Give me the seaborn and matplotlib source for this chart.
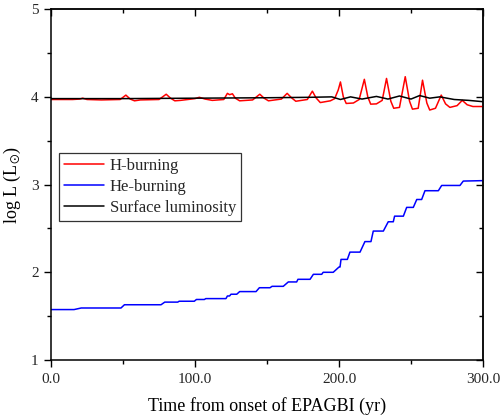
import numpy as np
import pandas as pd
import matplotlib
matplotlib.use("Agg")
import matplotlib.pyplot as plt
import seaborn as sns
from matplotlib.ticker import MultipleLocator, FormatStrFormatter
from matplotlib.lines import Line2D

# ---- data ----
h_t = [0, 15, 20, 22, 25, 35, 48, 52, 55, 58, 62, 75, 80, 83, 86, 90, 100, 103, 107, 112,
       120, 122.5, 124, 126, 128, 131, 140, 145, 148, 151, 160, 164, 167, 170, 178, 181.5,
       184, 187, 194, 197, 199.5, 201, 203, 205, 210, 214, 217.6, 220, 222, 226, 230, 233,
       236, 238, 242, 246, 249, 251, 255, 258, 261, 263, 267, 271, 274, 277, 282, 285.6,
       289, 293, 300]
h_v = [3.97, 3.97, 3.975, 3.985, 3.97, 3.965, 3.97, 4.02, 3.975, 3.955, 3.965, 3.97, 4.03,
       3.985, 3.955, 3.96, 3.98, 3.995, 3.975, 3.96, 3.97, 4.04, 4.025, 4.035, 3.985, 3.955,
       3.965, 4.03, 3.985, 3.955, 3.975, 4.04, 3.99, 3.95, 3.97, 4.065, 3.99, 3.935, 3.955,
       3.98, 4.08, 4.17, 4.0, 3.925, 3.93, 3.97, 4.2, 4.0, 3.917, 3.92, 3.96, 4.21, 3.95,
       3.87, 3.88, 4.23, 3.95, 3.86, 3.87, 4.19, 3.93, 3.85, 3.87, 4.02, 3.92, 3.88, 3.90,
       3.96, 3.91, 3.89, 3.89]

he_t = [0, 16, 21, 48.6, 51, 76.4, 79, 88, 89, 99.5, 101, 106.5, 107.5, 121.5, 122.5, 124,
        125, 129, 131, 142.4, 144.7, 152.1, 153.5, 161.3, 164.8, 170.6, 171.5, 179.9, 182.2,
        188, 189, 196, 200, 200.7, 201.4, 205.8, 207.6, 214.6, 218, 222.2, 223.8, 230.8,
        234.2, 237.7, 238.6, 244.7, 247, 251.6, 254, 257.4, 259.7, 269, 271.3, 284, 286.3, 300]
he_v = [1.575, 1.575, 1.593, 1.593, 1.63, 1.63, 1.66, 1.66, 1.67, 1.67, 1.69, 1.69, 1.70,
        1.70, 1.73, 1.73, 1.75, 1.75, 1.78, 1.78, 1.824, 1.824, 1.84, 1.84, 1.89, 1.89, 1.92,
        1.92, 1.977, 1.977, 2.00, 2.00, 2.06, 2.06, 2.147, 2.147, 2.23, 2.23, 2.35, 2.35,
        2.47, 2.47, 2.576, 2.576, 2.64, 2.64, 2.74, 2.74, 2.83, 2.83, 2.93, 2.93, 2.99, 2.99,
        3.04, 3.045]

s_t = [0, 50, 100, 150, 180, 195, 201, 208, 216, 226, 234, 242, 250, 256, 263, 270, 280, 290, 300]
s_v = [3.98, 3.98, 3.985, 3.99, 3.995, 4.0, 3.97, 4.0, 3.975, 4.005, 3.975, 4.01, 3.975,
       4.015, 3.985, 4.0, 3.97, 3.96, 3.945]

labels = ["H-burning", "He-burning", "Surface luminosity"]
colors = ["#ff0000", "#0000ff", "#000000"]

df = pd.concat([
    pd.DataFrame({"t": h_t, "v": h_v, "series": labels[0]}),
    pd.DataFrame({"t": he_t, "v": he_v, "series": labels[1]}),
    pd.DataFrame({"t": s_t, "v": s_v, "series": labels[2]}),
], ignore_index=True)

sns.set_theme(style="white")
plt.rcParams["font.family"] = ["Liberation Serif", "DejaVu Serif"]
plt.rcParams["mathtext.fontset"] = "stix"

fig = plt.figure(figsize=(5.0, 4.16), dpi=100)
ax = fig.add_axes([0.102, 0.1346, 0.864, 0.8434])

sns.lineplot(data=df, x="t", y="v", hue="series", palette=dict(zip(labels, colors)),
             estimator=None, sort=False, linewidth=1.1, ax=ax, legend=False)

ax.set_xlim(0, 300)
ax.set_ylim(1, 5)
ax.xaxis.set_major_locator(MultipleLocator(100))
ax.xaxis.set_minor_locator(MultipleLocator(50))
ax.yaxis.set_major_locator(MultipleLocator(1))
ax.yaxis.set_minor_locator(MultipleLocator(0.5))
ax.xaxis.set_major_formatter(FormatStrFormatter("%.1f"))
ax.yaxis.set_major_formatter(FormatStrFormatter("%d"))

for s in ax.spines.values():
    s.set_color("black")
    s.set_linewidth(1.1)

ax.tick_params(which="both", bottom=True, left=True, top=False, right=False,
               direction="out", color="black", labelsize=11, width=1.0)
ax.tick_params(which="major", length=5, pad=4)
ax.tick_params(which="minor", length=3)

# inward ticks on top and right
secx = ax.secondary_xaxis("top")
secx.xaxis.set_major_locator(MultipleLocator(100))
secx.xaxis.set_minor_locator(MultipleLocator(50))
secx.tick_params(which="both", direction="in", labeltop=False, width=1.0, color="black")
secx.tick_params(which="major", length=5)
secx.tick_params(which="minor", length=3)
secx.spines["top"].set_linewidth(1.1)
secy = ax.secondary_yaxis("right")
secy.yaxis.set_major_locator(MultipleLocator(1))
secy.yaxis.set_minor_locator(MultipleLocator(0.5))
secy.tick_params(which="both", direction="in", labelright=False, width=1.0, color="black")
secy.tick_params(which="major", length=5)
secy.tick_params(which="minor", length=3)
secy.spines["right"].set_linewidth(1.1)

ax.set_xlabel("Time from onset of EPAGBI (yr)", fontsize=13, color="black", labelpad=8)
ax.set_ylabel(r"log L (L$_{\odot}$)", fontsize=13, color="black", labelpad=6)

handles = [Line2D([], [], color=c, lw=1.1) for c in colors]
leg = ax.legend(handles, labels, loc="upper left", bbox_to_anchor=(0.018, 0.59),
                fontsize=12, frameon=True, fancybox=False, edgecolor="black",
                handlelength=2.4, handletextpad=0.35, labelspacing=0.3,
                borderpad=0.3, borderaxespad=0.0)
leg.get_frame().set_linewidth(0.9)

fig.savefig("out.png", dpi=100)
